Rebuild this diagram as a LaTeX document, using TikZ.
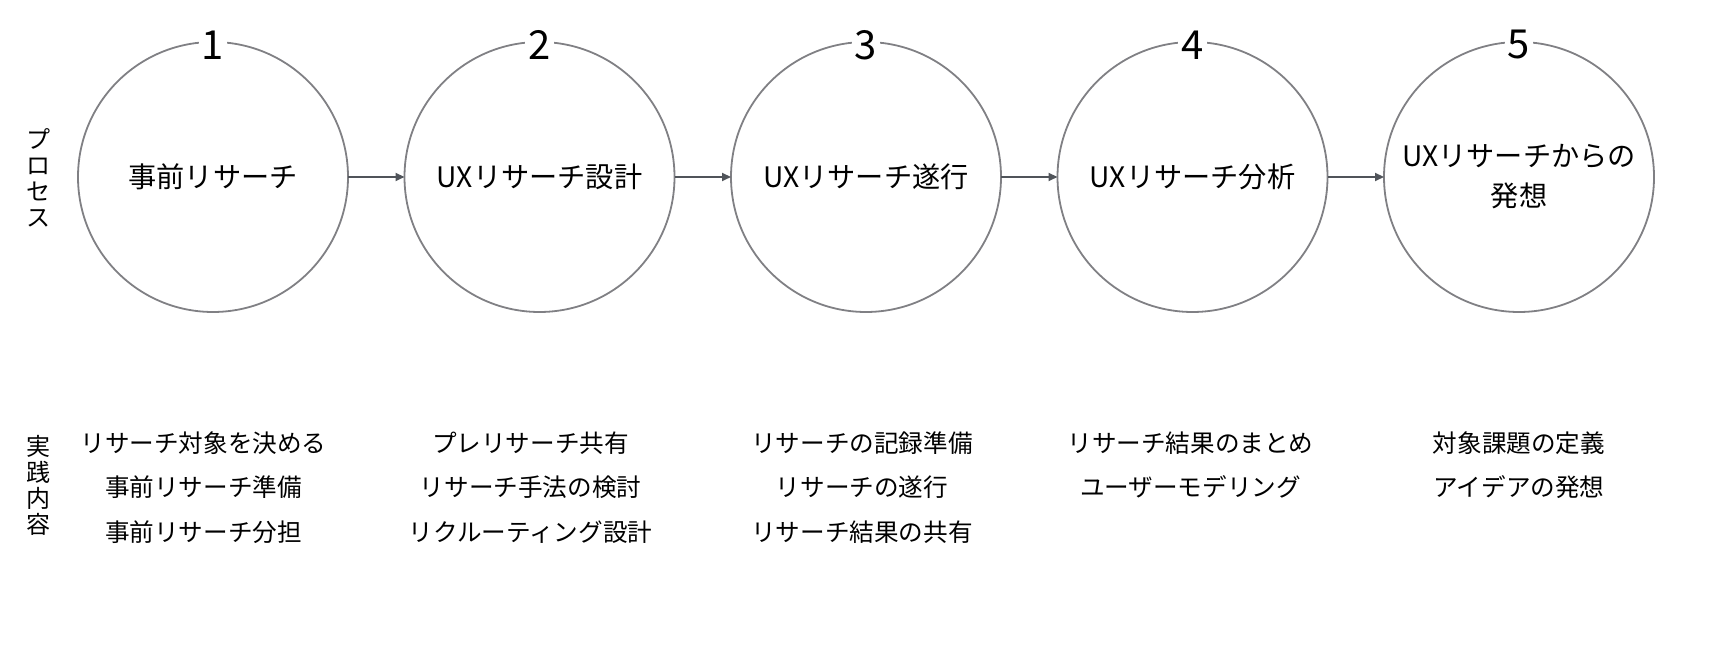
\documentclass[tikz,border=0pt]{standalone}
\usepackage{fontspec}
\setmainfont{Noto Sans CJK JP}
\usetikzlibrary{arrows.meta,positioning}

\definecolor{ringgray}{RGB}{128,128,132}
\definecolor{arrowgray}{RGB}{80,84,90}

\begin{document}
\begin{tikzpicture}[
  x=0.5pt,y=0.5pt,
  >={Triangle[length=4.5pt,width=4pt]},
  node distance=28.25pt,
  stage/.style={circle,draw=ringgray,line width=0.9pt,minimum size=135pt,inner sep=0pt,
    outer sep=0pt,align=center,font=\fontsize{14.1}{20}\selectfont},
  stagenum/.style={fill=white,inner sep=1.5pt,font=\fontsize{20}{24}\selectfont},
  tasks/.style={anchor=north,inner sep=0pt,align=center,font=\fontsize{12.3}{22.25}\selectfont},
  rowlabel/.style={inner sep=0pt,align=center,font=\fontsize{12}{13}\selectfont},
  flow/.style={->,draw=arrowgray,line width=1pt}
]
  \useasboundingbox (0,0) rectangle (1718,648);
  % process row
  \node[stage] (prep) at (213,471) {事前リサーチ};
  \node[stage,right=of prep] (design) {UXリサーチ設計};
  \node[stage,right=of design] (run) {UXリサーチ遂行};
  \node[stage,right=of run] (analysis) {UXリサーチ分析};
  \node[stage,right=of analysis] (ideation) {UXリサーチからの\\発想};
  \foreach \s/\n in {prep/1,design/2,run/3,analysis/4,ideation/5}
    \node[stagenum] (num-\n) at ([yshift=-1.5pt]\s.north) {\n};
  \foreach \a/\b in {prep/design,design/run,run/analysis,analysis/ideation}
    \draw[flow] (\a) -- (\b);
  % row labels
  \node[rowlabel] (process) at (38,470) {プ\\ロ\\セ\\ス};
  \node[rowlabel] (practice) at (38,163) {実\\践\\内\\容};
  % tasks
  \node[tasks] (prep-tasks) at ([xshift=-4.75pt,yshift=-127pt]prep.center)
    {リサーチ対象を決める\\事前リサーチ準備\\事前リサーチ分担};
  \node[tasks] (design-tasks) at ([xshift=-4.5pt,yshift=-127pt]design.center)
    {プレリサーチ共有\\リサーチ手法の検討\\リクルーティング設計};
  \node[tasks] (run-tasks) at ([xshift=-2pt,yshift=-127pt]run.center)
    {リサーチの記録準備\\リサーチの遂行\\リサーチ結果の共有};
  \node[tasks] (analysis-tasks) at ([xshift=-1pt,yshift=-127pt]analysis.center)
    {リサーチ結果のまとめ\\ユーザーモデリング};
  \node[tasks] (ideation-tasks) at ([yshift=-127pt]ideation.center)
    {対象課題の定義\\アイデアの発想};
\end{tikzpicture}
\end{document}
